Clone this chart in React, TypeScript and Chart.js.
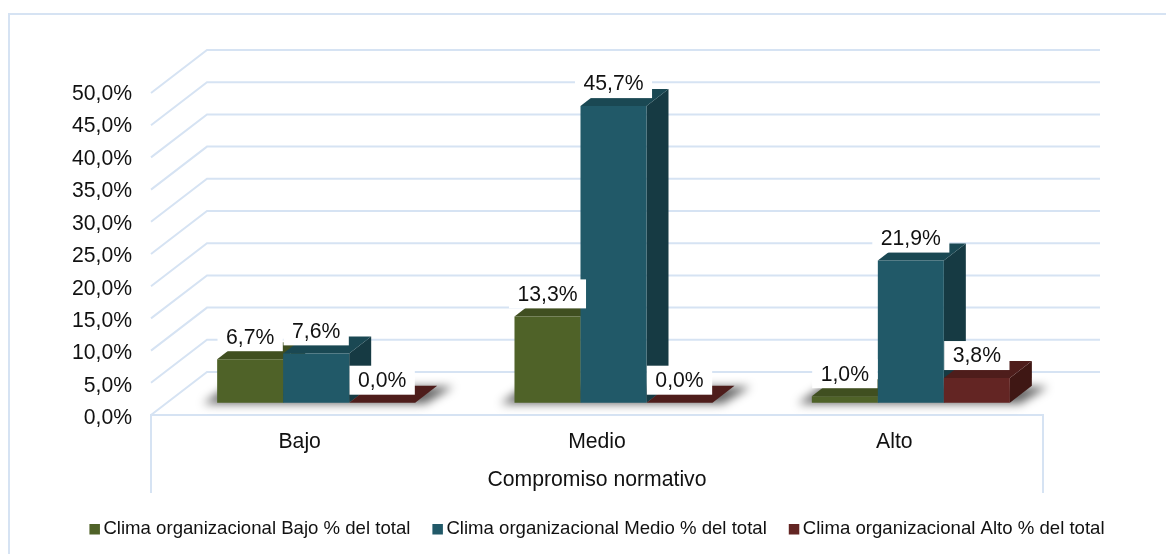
import React, { useEffect, useRef } from "react";
import { Chart, registerables } from "chart.js";

Chart.register(...registerables);

const categories = ["Bajo", "Medio", "Alto"];
const axisTitle = "Compromiso normativo";
const seriesLabels = [
  "Clima organizacional Bajo % del total",
  "Clima organizacional Medio % del total",
  "Clima organizacional Alto % del total",
];
const climaBajo = [6.7, 13.3, 1.0];
const climaMedio = [7.6, 45.7, 21.9];
const climaAlto = [0.0, 0.0, 3.8];

const frontColors = ["#4f6228", "#215968", "#632523"];
const topColors = ["#404f20", "#1a4853", "#4e1d1b"];
const sideColors = ["#36431b", "#163a43", "#3f1714"];

const FONT = "'Liberation Sans', Arial, sans-serif";
const LINE = "#d6e3f3";
const TEXT = "#111111";

// Oblique projection used for the walls and the bars standing on the floor
const FLOOR_LIFT = 3.5;
const WALL_RATIO = 322 / 324.5;
const WALL_DX = 56;
const WALL_DY = -43;
const WALL_RIGHT = 1100;
const BAR_DX = 16.5;
const BAR_DY = -15.8;
const DEPTH_DX = 22;
const DEPTH_DY = -17;

const pct = (v: number) => v.toFixed(1).replace(".", ",") + "%";

const bars3d = {
  id: "bars3d",
  beforeDraw(chart: any) {
    const { ctx } = chart;
    ctx.save();
    ctx.strokeStyle = LINE;
    ctx.lineWidth = 2;
    ctx.beginPath();
    ctx.moveTo(9, 554);
    ctx.lineTo(9, 14);
    ctx.lineTo(1166, 14);
    ctx.stroke();
    ctx.restore();
  },
  beforeDatasetsDraw(chart: any) {
    const { ctx, chartArea: a, scales } = chart;
    const y = scales.y;
    const floor = a.bottom - FLOOR_LIFT;
    ctx.save();
    ctx.strokeStyle = LINE;
    ctx.lineWidth = 2;
    // side wall and back wall rules
    y.ticks.forEach((t: any) => {
      const py = floor - (a.bottom - y.getPixelForValue(t.value)) * WALL_RATIO;
      ctx.beginPath();
      ctx.moveTo(a.left, py);
      ctx.lineTo(a.left + WALL_DX, py + WALL_DY);
      ctx.lineTo(WALL_RIGHT, py + WALL_DY);
      ctx.stroke();
    });
    // floor edge and the box around the category labels
    ctx.beginPath();
    ctx.moveTo(a.left, 493);
    ctx.lineTo(a.left, floor);
    ctx.lineTo(a.right, floor);
    ctx.lineTo(a.right, 493);
    ctx.stroke();
    ctx.restore();

    // soft floor shadow below each group of bars
    const first = chart.getDatasetMeta(0).data;
    const last = chart.getDatasetMeta(chart.data.datasets.length - 1).data;
    ctx.save();
    ctx.filter = "blur(5px)";
    ctx.fillStyle = "rgba(0,0,0,0.6)";
    first.forEach((el: any, i: number) => {
      const l = el.x - el.width / 2 + BAR_DX;
      const r = last[i].x + last[i].width / 2 + BAR_DX;
      const b = el.base + BAR_DY;
      ctx.beginPath();
      ctx.moveTo(l - 14, b + 1);
      ctx.lineTo(r + 10, b + 1);
      ctx.lineTo(r + DEPTH_DX + 16, b + DEPTH_DY + 1);
      ctx.lineTo(l + 10, b + DEPTH_DY + 1);
      ctx.closePath();
      ctx.fill();
    });
    ctx.restore();
  },
  beforeDatasetDraw() {
    return false;
  },
  afterDatasetsDraw(chart: any) {
    const { ctx, chartArea: a } = chart;
    const metas = chart.data.datasets.map((_: any, i: number) => chart.getDatasetMeta(i));

    metas.forEach((meta: any, di: number) => {
      meta.data.forEach((el: any) => {
        const l = el.x - el.width / 2 + BAR_DX;
        const r = el.x + el.width / 2 + BAR_DX;
        const top = el.y + BAR_DY;
        const bot = el.base + BAR_DY;
        ctx.save();
        ctx.fillStyle = sideColors[di];
        ctx.beginPath();
        ctx.moveTo(r, top);
        ctx.lineTo(r + DEPTH_DX, top + DEPTH_DY);
        ctx.lineTo(r + DEPTH_DX, bot + DEPTH_DY);
        ctx.lineTo(r, bot);
        ctx.closePath();
        ctx.fill();
        ctx.fillStyle = topColors[di];
        ctx.beginPath();
        ctx.moveTo(l, top);
        ctx.lineTo(l + DEPTH_DX, top + DEPTH_DY);
        ctx.lineTo(r + DEPTH_DX, top + DEPTH_DY);
        ctx.lineTo(r, top);
        ctx.closePath();
        ctx.fill();
        ctx.translate(BAR_DX, BAR_DY);
        el.draw(ctx, a);
        ctx.restore();
      });
    });

    // value labels on white plates
    ctx.save();
    ctx.font = `21.2px ${FONT}`;
    ctx.textAlign = "center";
    ctx.textBaseline = "middle";
    metas.forEach((meta: any, di: number) => {
      meta.data.forEach((el: any, i: number) => {
        const text = pct(chart.data.datasets[di].data[i]);
        const w = ctx.measureText(text).width + 17;
        const bottom = el.y + BAR_DY - 8;
        const cx = el.x + BAR_DX;
        ctx.fillStyle = "#ffffff";
        ctx.fillRect(cx - w / 2, bottom - 29, w, 29);
        ctx.fillStyle = TEXT;
        ctx.fillText(text, cx, bottom - 13.5);
      });
    });
    ctx.restore();

    // legend row centred under the plot
    ctx.save();
    ctx.font = `18.6px ${FONT}`;
    ctx.textAlign = "left";
    ctx.textBaseline = "middle";
    const widths = seriesLabels.map((s) => ctx.measureText(s).width);
    const total = widths.reduce((s, w) => s + w + 14, 0) + 22 * (widths.length - 1);
    let x = (a.left + a.right) / 2 - total / 2;
    seriesLabels.forEach((s, i) => {
      ctx.fillStyle = frontColors[i];
      ctx.fillRect(x, 524, 10.5, 10.5);
      ctx.fillStyle = TEXT;
      ctx.fillText(s, x + 14, 529);
      x += widths[i] + 14 + 22;
    });
    ctx.restore();
  },
};

export default function App() {
  const ref = useRef<HTMLCanvasElement>(null);
  useEffect(() => {
    if (!ref.current) return;
    const makeSet = (i: number, data: number[]) => ({
      label: seriesLabels[i],
      data,
      backgroundColor: frontColors[i],
      borderWidth: 0,
      categoryPercentage: 0.666,
      barPercentage: 1,
    });
    const chart = new Chart(ref.current, {
      type: "bar",
      data: {
        labels: categories,
        datasets: [makeSet(0, climaBajo), makeSet(1, climaMedio), makeSet(2, climaAlto)],
      },
      plugins: [bars3d],
      options: {
        responsive: false,
        animation: false,
        layout: { padding: { left: 0, top: 94, right: 123, bottom: 57.5 } },
        plugins: { legend: { display: false }, tooltip: { enabled: false } },
        scales: {
          x: {
            grid: { display: false },
            border: { display: false },
            ticks: { color: TEXT, font: { family: FONT, size: 21.2 }, padding: 2.5, maxRotation: 0 },
            title: {
              display: true,
              text: axisTitle,
              color: TEXT,
              font: { family: FONT, size: 21.2 },
              padding: { top: 0, bottom: 3.5 },
            },
            afterFit: (s: any) => {
              s.height = 78;
            },
          },
          y: {
            min: 0,
            max: 50,
            grid: { display: false },
            border: { display: false },
            ticks: {
              stepSize: 5,
              color: TEXT,
              font: { family: FONT, size: 21.2 },
              padding: 11,
              callback: (v: any) => pct(Number(v)),
            },
            afterFit: (s: any) => {
              s.width = 151;
            },
          },
        },
      },
    } as any);
    return () => chart.destroy();
  }, []);
  return (
    <canvas
      ref={ref}
      width={1166}
      height={554}
      style={{ position: "fixed", left: 0, top: 0, display: "block", background: "#ffffff" }}
    />
  );
}
